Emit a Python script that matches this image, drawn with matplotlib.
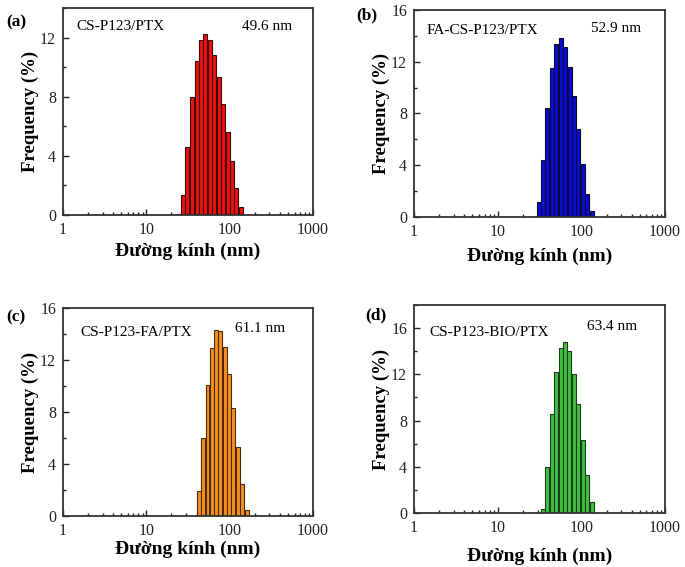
import matplotlib
matplotlib.use("Agg")
import matplotlib.pyplot as plt
from matplotlib.ticker import MultipleLocator, FixedLocator, FixedFormatter, LogLocator, NullFormatter
import numpy as np

# ---------------- data ----------------
diam_a = [24.7, 27.4, 31.1, 35.4, 40.2, 45.4, 51.1, 58.1, 65.5, 73.8, 84.0, 94.6, 106.7, 120.2, 135.5]
freq_a = [0.1, 1.35, 4.6, 7.96, 10.44, 11.84, 12.27, 11.84, 10.83, 9.32, 7.53, 5.6, 3.65, 1.85, 0.56]

diam_b = [30.9, 34.8, 39.2, 44.6, 50.3, 56.6, 63.8, 72.5, 81.7, 92.1, 103.8, 118.0, 132.9]
freq_b = [1.16, 4.39, 8.39, 11.54, 13.34, 13.8, 13.14, 11.56, 9.37, 6.84, 4.13, 1.81, 0.44]

diam_c = [42.7, 48.2, 54.2, 61.1, 68.8, 77.4, 87.2, 98.2, 110.6, 124.5, 141.5, 159.3]
freq_c = [1.93, 6.02, 10.08, 12.96, 14.3, 14.22, 13.03, 10.93, 8.28, 5.32, 2.49, 0.44]

diam_d = [35.1, 39.2, 44.6, 50.3, 56.6, 63.8, 71.9, 81.7, 92.1, 103.8, 116.9, 132.9]
freq_d = [0.38, 3.96, 8.58, 12.22, 14.31, 14.84, 13.99, 12.04, 9.4, 6.34, 3.29, 0.96]

panel_labels = ["(a)", "(b)", "(c)", "(d)"]
samples = ["CS-P123/PTX", "FA-CS-P123/PTX", "CS-P123-FA/PTX", "CS-P123-BIO/PTX"]
sizes = ["49.6 nm", "52.9 nm", "61.1 nm", "63.4 nm"]
xlabel = "Đường kính (nm)"
ylabel = "Frequency (%)"
xticks = [1, 10, 100, 1000]
xticklabels = ["1", "10", "100", "1000"]

# ---------------- style ----------------
plt.rcParams['font.family'] = ['Liberation Serif', 'DejaVu Serif']
W, H = 685, 567
fig = plt.figure(figsize=(W / 100, H / 100), dpi=100)

def rect(l, t, r, b):
    return [l / W, 1 - b / H, (r - l) / W, (b - t) / H]

def fpos(x, y):
    return x / W, 1 - y / H

panels = [
    dict(rect=rect(63, 8, 313, 215), d=diam_a, f=freq_a, color='#f01010', edge='#3a0a0a', ymax=14, yticks=[0, 4, 8, 12],
         plabel=(6, 22), sample=(76, 27), size=(242, 27), xpad=3.2),
    dict(rect=rect(414, 10, 665, 217), d=diam_b, f=freq_b, color='#0b0bd8', edge='#0a0a30', ymax=16, yticks=[0, 4, 8, 12, 16],
         plabel=(356, 15), sample=(427, 30), size=(591, 29), xpad=5.4),
    dict(rect=rect(63, 308, 313, 516), d=diam_c, f=freq_c, color='#f7901e', edge='#4a2a08', ymax=16, yticks=[0, 4, 8, 12, 16],
         plabel=(6, 317), sample=(80, 333), size=(235, 329), xpad=1.2),
    dict(rect=rect(414, 305, 665, 513), d=diam_d, f=freq_d, color='#3fc23f', edge='#1c3a1c', ymax=18, yticks=[0, 4, 8, 12, 16],
         plabel=(365, 315), sample=(429, 332), size=(587, 327), xpad=8.2),
]

for i, p in enumerate(panels):
    ax = fig.add_axes(p['rect'])
    d = np.array(p['d'])
    step = np.exp(np.mean(np.diff(np.log(d))))
    half = step ** 0.46
    left = d / half
    width = d * half - left
    ax.bar(left, p['f'], width=width, align='edge', color=p['color'],
           edgecolor=p['edge'], linewidth=0.8, zorder=2)
    ax.set_xscale('log')
    ax.set_xlim(1, 1000)
    ax.set_ylim(0, p['ymax'])
    ax.xaxis.set_major_locator(FixedLocator(xticks))
    ax.xaxis.set_major_formatter(FixedFormatter(xticklabels))
    ax.xaxis.set_minor_locator(LogLocator(base=10, subs=np.arange(2, 10)))
    ax.xaxis.set_minor_formatter(NullFormatter())
    ax.yaxis.set_major_locator(FixedLocator(p['yticks']))
    ax.yaxis.set_minor_locator(MultipleLocator(2))
    ax.tick_params(which='both', direction='in', top=False, right=False,
                   labelsize=11.5, colors='#222222', width=1.0)
    ax.tick_params(which='major', length=4.5, pad=5)
    ax.tick_params(which='minor', length=2.5)
    for s in ax.spines.values():
        s.set_linewidth(1.3)
        s.set_color('#333333')
    ax.set_xlabel(xlabel, fontsize=14, fontweight='bold', labelpad=p['xpad'])
    ax.set_ylabel(ylabel, fontsize=13.5, fontweight='bold', labelpad=0.5)

    fig.text(*fpos(*p['plabel']), panel_labels[i], fontsize=12.5, fontweight='bold',
             ha='left', va='center')
    fig.text(*fpos(*p['sample']), samples[i], fontsize=11, ha='left', va='center')
    fig.text(*fpos(*p['size']), sizes[i], fontsize=11, ha='left', va='center')

fig.savefig('out.png', dpi=100)
